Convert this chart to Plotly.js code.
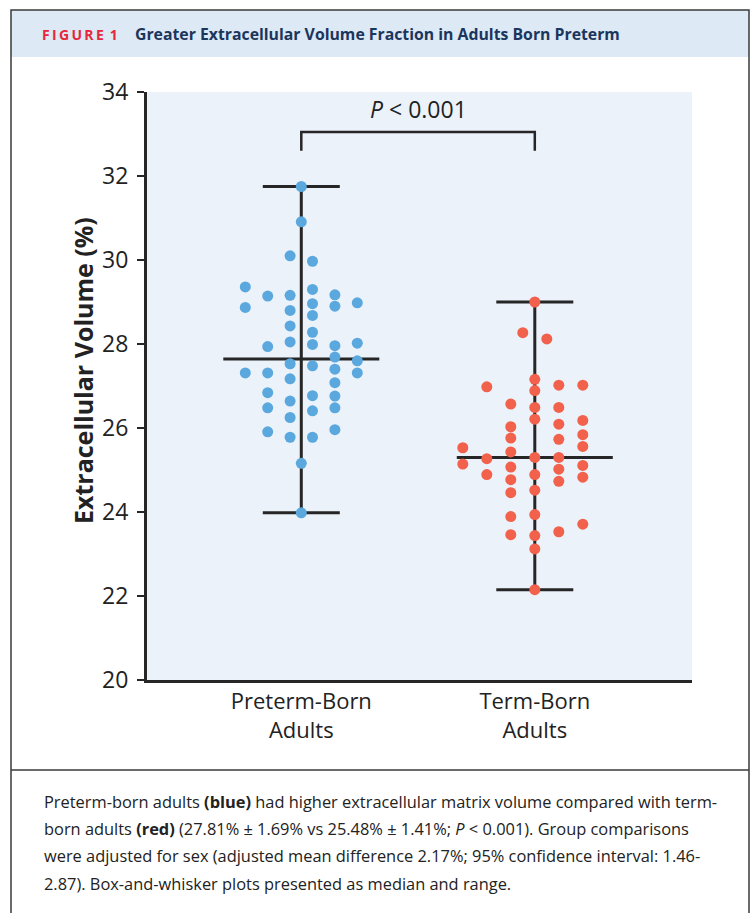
<!DOCTYPE html>
<html>
<head>
<meta charset="utf-8">
<script src="https://cdn.plot.ly/plotly-3.0.1.min.js"></script>
<style>
html,body{margin:0;padding:0;background:#fff;}
#chart{width:755px;height:913px;}
</style>
</head>
<body>
<div id="chart"></div>
<script>
// ---- data ----
const categories = ['Preterm-Born<br>Adults', 'Term-Born<br>Adults'];
const yTickVals = [20, 22, 24, 26, 28, 30, 32, 34];

// Preterm-born adults: ECV (%) and swarm column index
const pretermECV = [
  29.36, 28.87, 27.31,
  29.14, 27.94, 27.31, 26.84, 26.48, 25.91,
  30.10, 29.16, 28.80, 28.43, 28.05, 27.53, 27.17, 26.64, 26.25, 25.78,
  31.75, 30.91, 25.16, 23.98,
  29.97, 29.30, 28.96, 28.68, 28.28, 27.99, 27.48, 26.77, 26.41, 25.78,
  29.17, 28.90, 27.96, 27.69, 27.40, 27.08, 26.76, 26.48, 25.96,
  28.98, 28.02, 27.60, 27.31
];
const pretermSlot = [
  -5, -5, -5,
  -3, -3, -3, -3, -3, -3,
  -1, -1, -1, -1, -1, -1, -1, -1, -1, -1,
  0, 0, 0, 0,
  1, 1, 1, 1, 1, 1, 1, 1, 1, 1,
  3, 3, 3, 3, 3, 3, 3, 3, 3,
  5, 5, 5, 5
];

// Term-born adults: ECV (%) and swarm column index
const termECV = [
  25.53, 25.14,
  26.98, 25.27, 24.89,
  26.57, 26.03, 25.76, 25.43, 25.07, 24.77, 24.46, 23.89, 23.46,
  28.27,
  29.00, 27.16, 26.89, 26.49, 26.21, 25.30, 24.89, 24.52, 23.94, 23.44, 23.12, 22.15,
  28.12,
  27.02, 26.49, 26.09, 25.73, 25.30, 25.02, 24.73, 23.53,
  27.02, 26.18, 25.84, 25.56, 25.11, 24.83, 23.71
];
const termSlot = [
  -6, -6,
  -4, -4, -4,
  -2, -2, -2, -2, -2, -2, -2, -2, -2,
  -1,
  0, 0, 0, 0, 0, 0, 0, 0, 0, 0, 0, 0,
  1,
  2, 2, 2, 2, 2, 2, 2, 2,
  4, 4, 4, 4, 4, 4, 4
];

// ---- layout geometry ----
const W = 755, H = 913;
const L = 147, R = 692, T = 92, B = 680;
const groupGap = 233.5;                 // px between group centres
const pretermStep = 11.2 / groupGap;    // swarm column step (axis units)
const termStep = 12.0 / groupGap;
const capHalf = 38.5 / groupGap;
const medHalf = 78 / groupGap;
function px(x){ return (x - L) / (R - L); }
function py(y){ return (B - y) / (B - T); }

function median(a){
  const s = a.slice().sort((p,q)=>p-q);
  const n = s.length;
  return n % 2 ? s[(n-1)/2] : (s[n/2-1] + s[n/2]) / 2;
}

const lineColor = '#262626';
const traces = [];
function summary(vals, cx){
  const mn = Math.min(...vals), mx = Math.max(...vals), md = median(vals);
  const st = {color: lineColor, width: 3};
  traces.push({type:'scatter', mode:'lines', x:[cx, cx], y:[mn, mx], line:st, hoverinfo:'skip', showlegend:false});
  traces.push({type:'scatter', mode:'lines', x:[cx-capHalf, cx+capHalf], y:[mx, mx], line:st, hoverinfo:'skip', showlegend:false});
  traces.push({type:'scatter', mode:'lines', x:[cx-capHalf, cx+capHalf], y:[mn, mn], line:st, hoverinfo:'skip', showlegend:false});
  traces.push({type:'scatter', mode:'lines', x:[cx-medHalf, cx+medHalf], y:[md, md], line:st, hoverinfo:'skip', showlegend:false});
}
summary(pretermECV, 0);
summary(termECV, 1);

traces.push({
  type:'scatter', mode:'markers', name:'Preterm-born',
  x: pretermSlot.map(s => 0 + s * pretermStep), y: pretermECV,
  marker:{size:11, color:'#5BA8DE', line:{width:0}}, showlegend:false
});
traces.push({
  type:'scatter', mode:'markers', name:'Term-born',
  x: termSlot.map(s => 1 + s * termStep), y: termECV,
  marker:{size:11, color:'#F1614B', line:{width:0}}, showlegend:false
});

const frameColor = '#3a3a3a';
const shapes = [
  // header band
  {type:'rect', xref:'paper', yref:'paper', x0:px(11), x1:px(749), y0:py(57), y1:py(10),
   fillcolor:'#DDE9F5', line:{width:0}, layer:'below'},
  // outer frame
  {type:'rect', xref:'paper', yref:'paper', x0:px(11), x1:px(749), y0:py(930), y1:py(10),
   fillcolor:'rgba(0,0,0,0)', line:{color:frameColor, width:1.5}},
  // caption separator
  {type:'line', xref:'paper', yref:'paper', x0:px(11), x1:px(749), y0:py(770), y1:py(770),
   line:{color:frameColor, width:1.5}},
  // significance bracket
  {type:'path', xref:'x', yref:'y',
   path:'M 0 32.6 L 0 33.05 L 1 33.05 L 1 32.6',
   line:{color:lineColor, width:2.5}}
];

const capFont = {family:'Open Sans, sans-serif', size:16.4, color:'#222'};
const captionLines = [
  'Preterm-born adults <b>(blue)</b> had higher extracellular matrix volume compared with term-',
  'born adults <b>(red)</b> (27.81% ± 1.69% vs 25.48% ± 1.41%; <i>P</i> &lt; 0.001). Group comparisons',
  'were adjusted for sex (adjusted mean difference 2.17%; 95% confidence interval: 1.46-',
  '2.87). Box-and-whisker plots presented as median and range.'
];
const captionY = [801, 828, 856, 883];

const annotations = [
  {xref:'paper', yref:'paper', x:px(40), y:py(34), xanchor:'left', yanchor:'middle', showarrow:false,
   text:'<b>F\u2009I\u2009G\u2009U\u2009R\u2009E\u2009 1</b>',
   font:{family:'Open Sans, sans-serif', size:14, color:'#E5283A'}},
  {xref:'paper', yref:'paper', x:px(133), y:py(34), xanchor:'left', yanchor:'middle', showarrow:false,
   text:'<b>Greater Extracellular Volume Fraction in Adults Born Preterm</b>',
   font:{family:'Open Sans, sans-serif', size:15.8, color:'#1B365D'}},
  {xref:'x', yref:'y', x:0.5, y:33.6, xanchor:'center', yanchor:'middle', showarrow:false,
   text:'<i>P</i> &lt; 0.001', font:{family:'Open Sans, sans-serif', size:23, color:'#222'}},
  // y-axis title
  {xref:'paper', yref:'paper', x:px(83), y:py(371), xanchor:'center', yanchor:'middle', showarrow:false,
   textangle:-90, text:'<b>Extracellular Volume (%)</b>',
   font:{family:'Open Sans, sans-serif', size:25, color:'#222'}}
];
captionLines.forEach((t,i)=>{
  annotations.push({xref:'paper', yref:'paper', x:px(42), y:py(captionY[i]), xanchor:'left', yanchor:'middle',
    showarrow:false, align:'left', text:t, font:capFont});
});

const layout = {
  width:W, height:H,
  margin:{l:L, r:W-R, t:T, b:H-B, pad:0},
  paper_bgcolor:'#ffffff',
  plot_bgcolor:'#EBF2FA',
  showlegend:false,
  font:{family:'Open Sans, sans-serif', color:'#222'},
  xaxis:{
    range:[-(301.3-L)/groupGap, (R-301.3)/groupGap],
    tickvals:[0,1], ticktext:categories,
    ticks:'', showgrid:false, zeroline:false,
    showline:true, linecolor:lineColor, linewidth:3,
    tickfont:{family:'Open Sans, sans-serif', size:22, color:'#222'},
    ticklabelstandoff:0, fixedrange:true
  },
  yaxis:{
    range:[20,34], tickvals:yTickVals,
    ticks:'outside', ticklen:7, tickwidth:2.5, tickcolor:lineColor,
    showgrid:false, zeroline:false,
    showline:true, linecolor:lineColor, linewidth:3,
    tickfont:{family:'Open Sans, sans-serif', size:23, color:'#222'},
    ticklabelstandoff:4,
    fixedrange:true
  },
  shapes:shapes,
  annotations:annotations
};

Plotly.newPlot('chart', traces, layout, {displayModeBar:false, staticPlot:true});
</script>
</body>
</html>
